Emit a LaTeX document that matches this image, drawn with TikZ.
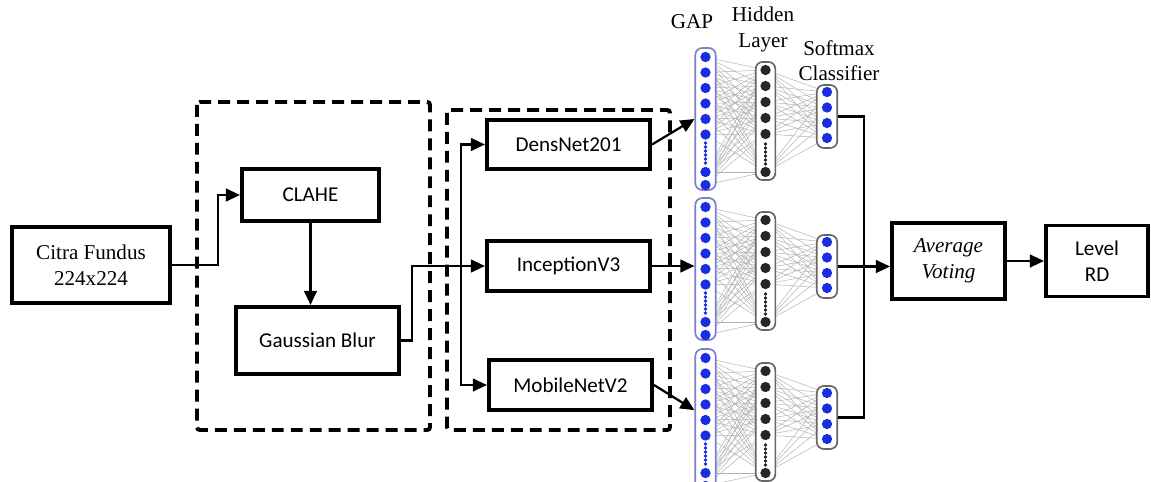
\documentclass[tikz,border=0pt]{standalone}
\usepackage{fontspec}
\setmainfont{Liberation Serif}
\newfontfamily\boxfont{Carlito}
\usetikzlibrary{arrows.meta,shapes}
\pgfdeclarelayer{background}
\pgfsetlayers{background,main}
\definecolor{dotblue}{RGB}{25,45,225}
\definecolor{gapline}{RGB}{125,125,215}
\tikzstyle{block}=[draw,line width=2.8pt,fill=white,align=center,inner sep=2pt,font=\boxfont\fontsize{15}{18.5}\selectfont]
\tikzstyle{serifblock}=[block,font=\fontsize{15}{18.5}\selectfont]
\tikzstyle{stagebox}=[draw,line width=2.8pt,dash pattern=on 8.5pt off 5pt,rounded corners=2pt]
\tikzstyle{flow}=[draw,line width=1.6pt,-{Triangle[length=10pt,width=9pt]}]
\tikzstyle{wire}=[draw,line width=1.6pt]
\tikzstyle{layerbox}=[draw,rounded corners=5pt,line width=1.2pt,fill=white,inner sep=0pt]
\tikzstyle{gapunit}=[circle,fill=dotblue,minimum size=7.3pt,inner sep=0pt]
\tikzstyle{hidunit}=[gapunit,fill=black!85]
\tikzstyle{synapse}=[draw,black!30,line width=0.35pt]
\tikzstyle{netlabel}=[align=center,inner sep=0pt,font=\fontsize{15}{18}\selectfont]

\begin{document}
\begin{tikzpicture}[x=0.025cm,y=-0.025cm]
    \useasboundingbox (0,0) rectangle (1151,481);
    \clip (0,0) rectangle (1151,481);
    % the two dashed stages
    \draw[stagebox] (197,102) rectangle (430,430);
    \draw[stagebox] (447,110) rectangle (670,430);
    % input and preprocessing
    \node[serifblock,minimum width=112pt,minimum height=54pt] (cit) at (91,265) {Citra Fundus\\224x224};
    \node[block,minimum width=97.5pt,minimum height=37pt] (clahe) at (310.5,195) {CLAHE};
    \node[block,minimum width=116pt,minimum height=47.7pt] (gauss) at (317.5,340.5) {Gaussian Blur};
    % the three CNN models
    \foreach \pos/\name/\txt in {{(568.5,144.5)/dens/DensNet201}, {(568.5,266)/incep/InceptionV3}, {(570.5,385)/mobile/MobileNetV2}}
        \node[block,minimum width=116pt,minimum height=35pt] (\name) at \pos {\txt};
    % voting and result
    \node[serifblock,minimum width=80.4pt,minimum height=54pt] (avg) at (948.5,261) {\textit{Average}\\\textit{Voting}};
    \node[block,minimum width=72.6pt,minimum height=50.5pt] (level) at (1097,261) {Level\\RD};

    % one small network per model
    \foreach \off/\n in {0/A,150/B,301/C} {
        \node[layerbox,draw=gapline,minimum width=14.5pt,minimum height=101pt] (gap\n) at (705.5,119+\off) {};
        \node[layerbox,draw=black!60,minimum width=14pt,minimum height=84pt] (hid\n) at (765.5,121+\off) {};
        \node[layerbox,draw=black!60,minimum width=14.5pt,minimum height=44.8pt] (sm\n) at (827,116.5+\off) {};
        \foreach \y [count=\i] in {57,72.5,88,103.5,119,134.5,172,185}
            \node[gapunit] (g\n\i) at (705.5,\y+\off) {};
        \foreach \y in {143,147,...,163}
            \fill[dotblue] (705.5,\y+\off) circle (1.3pt);
        \foreach \y [count=\i] in {70,86,102,118,134,172}
            \node[hidunit] (h\n\i) at (765.5,\y+\off) {};
        \foreach \y in {144,148,...,164}
            \fill[black!85] (765.5,\y+\off) circle (1.3pt);
        \foreach \y [count=\i] in {92,107.5,123,138}
            \node[gapunit] (s\n\i) at (827,\y+\off) {};
        \begin{pgfonlayer}{background}
            \foreach \i in {1,...,8}
                \foreach \j in {1,...,6}
                    \path[synapse] (g\n\i) -- (h\n\j);
            \foreach \j in {1,...,6}
                \foreach \k in {1,...,4}
                    \path[synapse] (h\n\j) -- (s\n\k);
        \end{pgfonlayer}
    }
    \node[netlabel] (gaptitle) at (692,22) {GAP};
    \node[netlabel] (hidtitle) at (763,29.5) {Hidden\\Layer};
    \node[netlabel] (smtitle) at (839,60.5) {Softmax\\Classifier};

    % connectors
    \draw[flow] (cit.east) -- ++(46,0) |- (clahe.west);
    \draw[flow] (clahe.south) -- (clahe.south |- gauss.north);
    \coordinate (split) at (461,266);
    \draw[wire] (gauss.east) -- ++(11,0) |- (split);
    \draw[flow] (split) |- (dens.west);
    \draw[flow] (split) -- (incep.west);
    \draw[flow] (split) |- (mobile.west);
    \draw[flow] (dens.east) -- (gapA.west);
    \draw[flow] (incep.east) -- (incep.east -| gapB.west);
    \draw[flow] (mobile.east) -- ([yshift=7pt]gapC.west);
    \coordinate (vote) at (864,266.5);
    \draw[wire] (smA.east) -| (vote) |- (smC.east);
    \draw[flow] (smB.east) -- (smB.east -| avg.west);
    \draw[flow] (avg) -- (level);
\end{tikzpicture}
\end{document}
